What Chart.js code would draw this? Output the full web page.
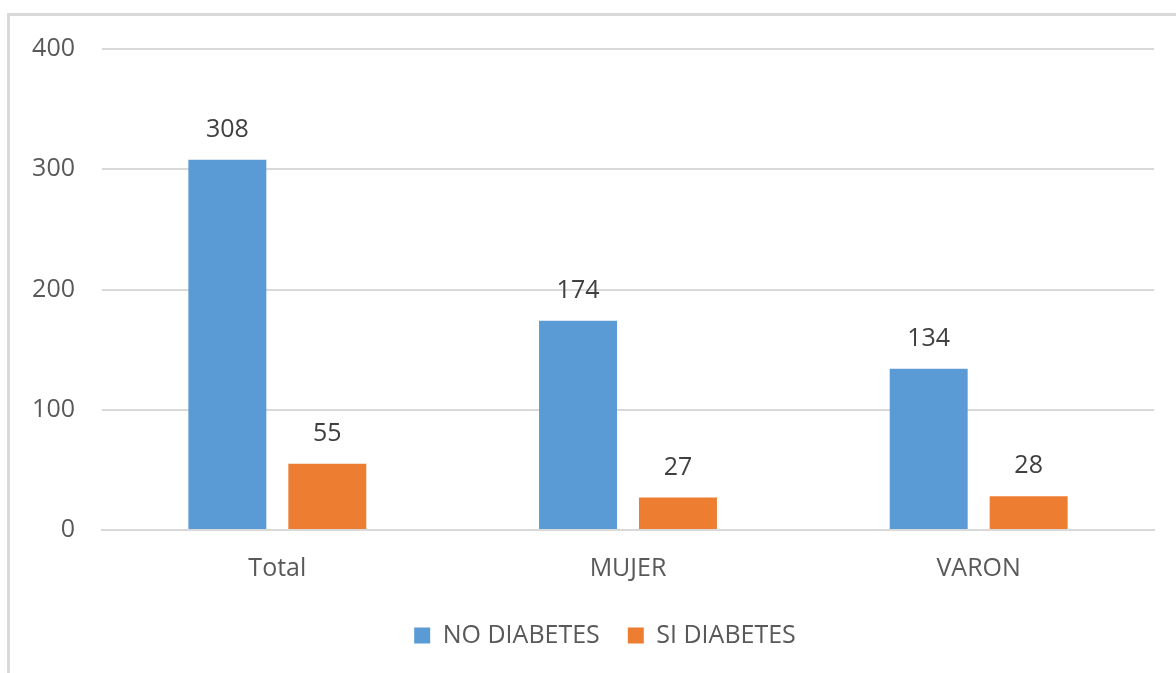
<!DOCTYPE html>
<html>
<head>
<meta charset="utf-8">
<script src="https://cdn.jsdelivr.net/npm/chart.js@4.4.1/dist/chart.umd.min.js"></script>
<style>
  html, body { margin: 0; padding: 0; background: #fff; overflow: hidden; }
  .frame {
    position: absolute; left: 7px; top: 13px; width: 1200px; height: 700px;
    border-left: 3px solid #d9d9d9; border-top: 3px solid #d9d9d9;
  }
  #chart { position: absolute; left: 0; top: 0; }
</style>
</head>
<body>
<div class="frame"></div>
<canvas id="chart" width="1176" height="673"></canvas>
<script>
// Chart data
const categories = ['Total', 'MUJER', 'VARON'];
const noDiabetes = [308, 174, 134];
const siDiabetes = [55, 27, 28];
const yTicks = [0, 100, 200, 300, 400];

const fontFamily = "'Open Sans', 'Liberation Sans', sans-serif";
const fontSize = 25;

// Draw the value above each bar
const valueLabels = {
    id: 'valueLabels',
    afterDatasetsDraw(chart) {
        const ctx = chart.ctx;
        ctx.save();
        ctx.font = fontSize + 'px ' + fontFamily;
        ctx.fillStyle = '#404040';
        ctx.textAlign = 'center';
        ctx.textBaseline = 'middle';
        chart.data.datasets.forEach((ds, i) => {
            chart.getDatasetMeta(i).data.forEach((bar, j) => {
                ctx.fillText(ds.data[j], bar.x, bar.y - 30);
            });
        });
        ctx.restore();
    }
};

// Legend sits a bit right of the canvas centre, like in the original
const legendShift = {
    id: 'legendShift',
    afterLayout(chart) {
        chart.legend.left += 28;
        chart.legend.right += 28;
    }
};

const ctx = document.getElementById('chart').getContext('2d');
new Chart(ctx, {
    type: 'bar',
    data: {
        labels: categories,
        datasets: [
            { label: 'NO DIABETES', data: noDiabetes, backgroundColor: '#5B9BD5' },
            { label: 'SI DIABETES', data: siDiabetes, backgroundColor: '#ED7D31' }
        ]
    },
    options: {
        responsive: false,
        animation: false,
        devicePixelRatio: 1,
        layout: { padding: { top: 49, right: 22, left: 0, bottom: 15 } },
        datasets: { bar: { categoryPercentage: 0.57, barPercentage: 0.78 } },
        scales: {
            x: {
                afterFit(scale) { scale.height = 65; },
                grid: { display: false, drawTicks: false },
                border: { color: '#d9d9d9', width: 2 },
                ticks: { color: '#595959', font: { family: fontFamily, size: fontSize }, padding: 24 }
            },
            y: {
                min: 0, max: 400,
                afterFit(scale) { scale.width = 102; },
                afterBuildTicks(scale) { scale.ticks = yTicks.map(v => ({ value: v })); },
                grid: { color: '#d9d9d9', lineWidth: 2, drawTicks: false },
                border: { display: false },
                ticks: { color: '#595959', font: { family: fontFamily, size: fontSize }, padding: 27 }
            }
        },
        plugins: {
            legend: {
                position: 'bottom',
                labels: {
                    boxWidth: 16, boxHeight: 16, padding: 28,
                    color: '#595959', font: { family: fontFamily, size: fontSize }
                }
            },
            tooltip: { enabled: false }
        }
    },
    plugins: [valueLabels, legendShift]
});
</script>
</body>
</html>
